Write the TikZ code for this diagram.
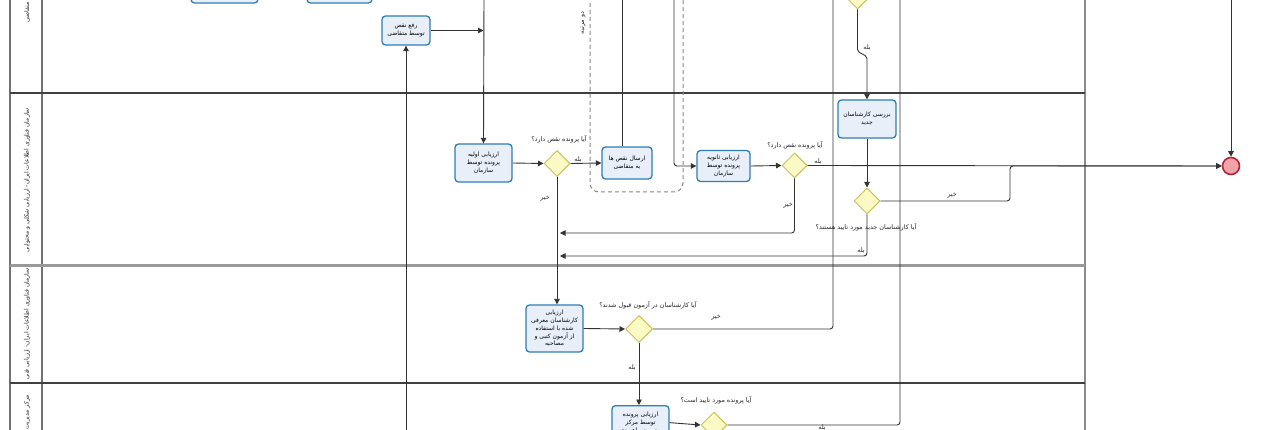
\documentclass[tikz,border=0pt]{standalone}
\usepackage{fontspec}
\usetikzlibrary{shapes.geometric,arrows.meta,calc}
\newfontfamily\faf[Script=Arabic]{DejaVu Sans}
\TeXXeTstate=1
\newcommand{\fr}[1]{{\faf\beginR #1\endR}}
\definecolor{tskB}{HTML}{2F7DB3}
\definecolor{tskF}{HTML}{E9EFF9}
\definecolor{gwB}{HTML}{C8C35A}
\definecolor{gwF}{HTML}{FBF9C4}
\definecolor{endB}{HTML}{B3263A}
\definecolor{endF}{HTML}{F0A3A8}
\definecolor{flowC}{HTML}{333333}
\definecolor{laneC}{HTML}{555555}
\definecolor{grpC}{HTML}{8A8A8A}
\tikzset{
 tsk/.style={draw=tskB, fill=tskF, line width=1.3pt, rounded corners=3.5pt, align=center, inner sep=1pt, font=\fontsize{6}{8}\selectfont},
 gw/.style={diamond, draw=gwB, fill=gwF, line width=1pt, minimum width=26pt, minimum height=26pt, inner sep=0pt},
 flow/.style={draw=flowC, line width=0.9pt, rounded corners=3pt},
 arr/.style={-{Triangle[length=5.5pt,width=5.5pt]}},
 lbl/.style={font=\fontsize{6.4}{7}\selectfont, inner sep=0.5pt, text=black!85},
 lane/.style={draw=laneC, line width=1.3pt},
 lanetxt/.style={font=\fontsize{6.1}{7}\selectfont, inner sep=0pt, rotate=90, text=black!85},
}
\begin{document}
\begin{tikzpicture}[x=1pt,y=-1pt]
\useasboundingbox (0,0) rectangle (1280,430);
\clip (0,0) rectangle (1280,430);
\fill[white] (0,0) rectangle (1280,430);

% pool and lanes
\draw[lane, draw=black!55] (10,-5) -- (10,435);
\draw[lane, draw=black!55] (42,-5) -- (42,435);
\draw[lane, draw=black!45] (1085,-5) -- (1085,435);
\draw[lane, draw=black!75] (10,93) -- (1085,93);
\draw[line width=2.6pt, draw=black!40] (10,265.5) -- (1085,265.5);
\draw[lane, draw=black!75] (10,383) -- (1085,383);

% lane labels
\node[lanetxt, anchor=west] (l1) at (27,23) {\fr{متقاضی}};
\node[lanetxt] (l2) at (27,180) {\fr{سازمان فناوری اطلاعات ایران- ارزیابی شکلی و محتوایی}};
\node[lanetxt, anchor=east] (l3) at (27,268) {\fr{سازمان فناوری اطلاعات ایران- ارزیابی فنی}};
\node[lanetxt, anchor=east] (l4) at (27,395) {\fr{مرکز مدیریت}};

% group
\draw[grpC, line width=1pt, dash pattern=on 4pt off 3pt, rounded corners=9pt] (590,-20) rectangle (683,192);
\node[lbl, rotate=90] (grl) at (583,23) {\fr{دو مرتبه}};

% tasks
\node[tsk, minimum width=67pt, minimum height=36pt] (boxa) at (224.5,-15) {};
\node[tsk, minimum width=65pt, minimum height=36pt] (boxb) at (339.5,-15) {};
\node[tsk, minimum width=48pt, minimum height=29pt] (rafe) at (406,30.5) {\fr{رفع نقص}\\\fr{توسط متقاضی}};
\node[tsk, minimum width=57pt, minimum height=38pt] (avl) at (483.5,163) {\fr{ارزیابی اولیه}\\\fr{پرونده توسط}\\\fr{سازمان}};
\node[tsk, minimum width=50pt, minimum height=32pt] (ersal) at (627,163) {\fr{ارسال نقص ها}\\\fr{به متقاضی}};
\node[tsk, minimum width=53pt, minimum height=31pt] (sanv) at (723.5,166) {\fr{ارزیابی ثانویه}\\\fr{پرونده توسط}\\\fr{سازمان}};
\node[tsk, minimum width=58pt, minimum height=38pt] (barr) at (867,119) {\fr{بررسی کارشناسان}\\\fr{جدید}};
\node[tsk, minimum width=57pt, minimum height=47pt, font=\fontsize{6}{7.8}\selectfont] (kar) at (554.5,328.5) {\fr{ارزیابی}\\\fr{کارشناسان معرفی}\\\fr{شده با استفاده}\\\fr{از آزمون کتبی و}\\\fr{مصاحبه}};
\node[tsk, minimum width=57pt, minimum height=34pt, anchor=north] (mark) at (640.5,405) {\fr{ارزیابی پرونده}\\\fr{توسط مرکز}\\\fr{مدیریت راهبردی}};

% gateways
\node[gw] (d1) at (557,163.5) {};
\node[gw, minimum width=25pt, minimum height=25pt] (d2) at (794.5,165.5) {};
\node[gw, minimum width=25pt, minimum height=25pt] (dt) at (857.5,-3.5) {};
\node[gw] (d4) at (867,201) {};
\node[gw, minimum width=27pt, minimum height=27pt] (d3) at (639,329) {};
\node[gw] (d5) at (714,425) {};

% end event
\node[circle, draw=endB, fill=endF, line width=1.6pt, minimum size=17pt, inner sep=0pt] (endev) at (1231,166) {};

% free ends
\coordinate (t1) at (833,-5);
\coordinate (t2) at (900,-5);
\coordinate (t3) at (674,-5);
\coordinate (t4) at (622,-5);
\coordinate (t5) at (484,-5);
\coordinate (t6) at (1231,-5);
\coordinate (b1) at (406,435);
\coordinate (m1) at (560,233);
\coordinate (m2) at (560,256);
\coordinate (j1) at (1010,166);

% connectors
\draw[flow,arr] (rafe.east) -- (rafe.east -| avl.north);
\draw[flow,arr] (b1) -- (rafe.south);
\draw[flow,arr] (t5) -- (avl.north);
\draw[flow,arr] (avl.east) -- (d1.west);
\draw[flow,arr] (d1.east) -- (ersal.west);
\draw[flow] ([xshift=-5pt]ersal.north) -- (t4);
\draw[flow,arr] (t3) |- (sanv.west);
\draw[flow,arr] (sanv.east) -- (d2.west);
\draw[flow,arr] (d2.east) -- (endev.west);
\draw[flow,arr] (d2.south) |- (m1);
\draw[flow,arr,rounded corners=2pt] (dt.south) -- ++(0,42) -- ++(9.5,5) -- (barr.north);
\draw[flow,arr] (barr.south) -- (d4.north);
\draw[flow,arr] (d4.east) -| (j1) -- (endev.west);
\draw[flow,arr] (d4.south) |- (m2);
\draw[flow,arr] (d1.south) -- (d1.south |- kar.north);
\draw[flow,arr] (kar.east) -- (d3.west);
\draw[flow] (d3.east) -| (t1);
\draw[flow,arr] (d3.south) -- (d3.south |- mark.north);
\draw[flow,arr] (mark.east) -- (d5.west);
\draw[flow] (d5.east) -| (t2);
\draw[flow,arr] (t6) -- (endev.north);

% labels
\node[lbl] (q1) at (559,139) {\fr{آیا پرونده نقص دارد؟}};
\node[lbl] (y1) at (578,160) {\fr{بله}};
\node[lbl] (n1) at (545,199) {\fr{خیر}};
\node[lbl] (q2) at (795,145) {\fr{آیا پرونده نقص دارد؟}};
\node[lbl] (y2) at (818,162) {\fr{بله}};
\node[lbl] (n2) at (788,206) {\fr{خیر}};
\node[lbl] (yt) at (867,48) {\fr{بله}};
\node[lbl] (n4) at (952,196) {\fr{خیر}};
\node[lbl] (q4) at (866,227) {\fr{آیا کارشناسان جدید مورد تایید هستند؟}};
\node[lbl] (y4) at (861,251) {\fr{بله}};
\node[lbl] (q3) at (648,305) {\fr{آیا کارشناسان در آزمون قبول شدند؟}};
\node[lbl] (n3) at (716,318) {\fr{خیر}};
\node[lbl] (y3) at (632,368) {\fr{بله}};
\node[lbl] (q5) at (716,400) {\fr{آیا پرونده مورد تایید است؟}};
\node[lbl] (y5) at (822,428) {\fr{بله}};
\end{tikzpicture}
\end{document}
